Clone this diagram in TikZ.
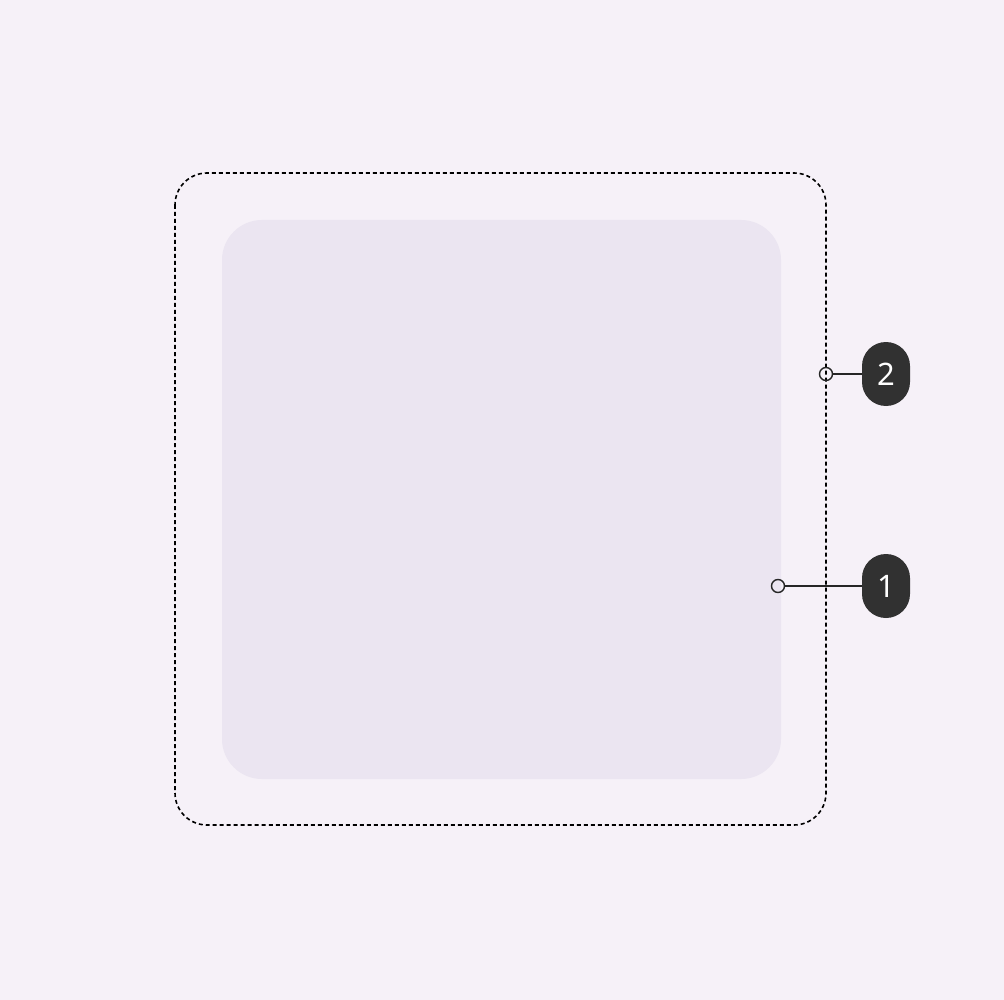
\documentclass[tikz,border=0pt]{standalone}
\usepackage{fontspec}
\setsansfont{Noto Sans}
\begin{document}
\begin{tikzpicture}[x=1pt,y=-1pt,
  badge/.style={fill=badgec, rounded corners=24pt, minimum width=48pt, minimum height=64pt, inner sep=0pt, text=white, font=\sffamily\fontsize{31}{31}\selectfont},
  dot/.style={circle, draw=black!85, line width=1.4pt, minimum size=13pt, inner sep=0pt},
  lead/.style={draw=black!85, line width=1.6pt}]
\definecolor{bgc}{HTML}{F6F1F8}
\definecolor{innerc}{HTML}{EBE5F1}
\definecolor{badgec}{HTML}{313131}
\fill[bgc] (0,0) rectangle (1004,1000);
\useasboundingbox (0,0) rectangle (1004,1000);
\fill[innerc, rounded corners=40pt] (222,220) rectangle (781,779);
\draw[black, line width=1.6pt, dash pattern=on 4pt off 3pt, rounded corners=32pt] (175,173) rectangle (826,825);
\node[badge] (b2) at (886,374) {2};
\node[badge] (b1) at (886,586) {1};
\node[dot] (d2) at (826,374) {};
\node[dot] (d1) at (778,586) {};
\draw[lead] (d2) -- (b2);
\draw[lead] (d1) -- (b1);
\end{tikzpicture}
\end{document}
